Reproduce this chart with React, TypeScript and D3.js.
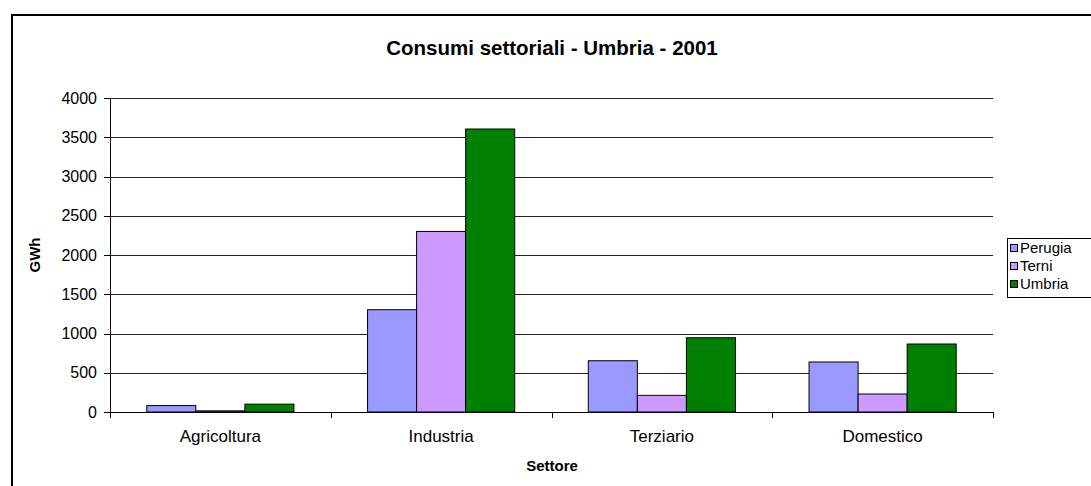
import React from "react";
import * as d3 from "d3";

const categories = ["Agricoltura", "Industria", "Terziario", "Domestico"];
const seriesNames = ["Perugia", "Terni", "Umbria"];
const perugia = [82, 1303, 653, 637];
const terni = [15, 2300, 212, 229];
const umbria = [100, 3605, 946, 866];
const yTicks = [0, 500, 1000, 1500, 2000, 2500, 3000, 3500, 4000];
const colors = ["#9999FF", "#CC99FF", "#008000"];

const W = 1091;
const H = 486;
const FONT = "'Liberation Sans', Arial, sans-serif";

export default function App() {
  const seriesValues = [perugia, terni, umbria];
  const left = 110, right = 993, top = 98, bottom = 412;
  const x = d3.scaleBand<string>().domain(categories).range([left, right]).paddingInner(0).paddingOuter(0);
  const y = d3.scaleLinear().domain([0, 4000]).range([bottom, top]);
  const bw = x.bandwidth();
  const barW = bw / 4.5;
  const inner = d3.scaleBand<string>().domain(seriesNames).range([0, barW * 3]);

  return (
    <svg width={W} height={H} style={{ position: "absolute", left: 0, top: 0 }} fontFamily={FONT}>
      <rect x={0} y={0} width={W} height={H} fill="#fff" />
      <rect x={12} y={15} width={W + 20} height={H + 20} fill="none" stroke="#000" strokeWidth={2} />
      <text x={552} y={55} textAnchor="middle" fontSize={20.5} fontWeight="bold">
        Consumi settoriali - Umbria - 2001
      </text>
      {/* gridlines */}
      {yTicks.map((t) => (
        <g key={t}>
          {t > 0 && (
            <line x1={left} x2={right} y1={Math.round(y(t)) + 0.5} y2={Math.round(y(t)) + 0.5} stroke="#222" strokeWidth={1} />
          )}
          <line x1={left - 6} x2={left} y1={Math.round(y(t)) + 0.5} y2={Math.round(y(t)) + 0.5} stroke="#000" />
          <text x={left - 13} y={y(t)} dy="0.35em" textAnchor="end" fontSize={16}>
            {t}
          </text>
        </g>
      ))}
      {/* bars */}
      {categories.map((c, ci) => (
        <g key={c}>
          {seriesNames.map((s, si) => {
            const v = seriesValues[si][ci];
            const bx = (x(c) as number) + barW * 0.75 + (inner(s) as number);
            return (
              <rect
                key={s}
                x={bx}
                y={y(v)}
                width={barW}
                height={y(0) - y(v)}
                fill={colors[si]}
                stroke="#000"
                strokeWidth={1}
              />
            );
          })}
        </g>
      ))}
      {/* axes */}
      <line x1={left + 0.5} x2={left + 0.5} y1={top} y2={bottom} stroke="#000" />
      <line x1={left} x2={right} y1={bottom + 0.5} y2={bottom + 0.5} stroke="#000" />
      {[...categories.map((c) => x(c) as number), right].map((px, i) => (
        <line key={i} x1={Math.round(px) + 0.5} x2={Math.round(px) + 0.5} y1={bottom} y2={bottom + 6} stroke="#000" />
      ))}
      {categories.map((c) => (
        <text key={c} x={(x(c) as number) + bw / 2} y={442} textAnchor="middle" fontSize={17}>
          {c}
        </text>
      ))}
      <text x={552} y={471} textAnchor="middle" fontSize={15} fontWeight="bold">
        Settore
      </text>
      <text transform={`translate(40,${(top + bottom) / 2}) rotate(-90)`} textAnchor="middle" fontSize={15} fontWeight="bold">
        GWh
      </text>
      {/* legend */}
      <rect x={1007.5} y={238.5} width={100} height={59} fill="#fff" stroke="#000" />
      {seriesNames.map((s, i) => (
        <g key={s}>
          <rect x={1010.5} y={244.5 + i * 18} width={7} height={7} fill={colors[i]} stroke="#000" />
          <text x={1020} y={248 + i * 18} dy="0.35em" fontSize={15}>
            {s}
          </text>
        </g>
      ))}
    </svg>
  );
}
